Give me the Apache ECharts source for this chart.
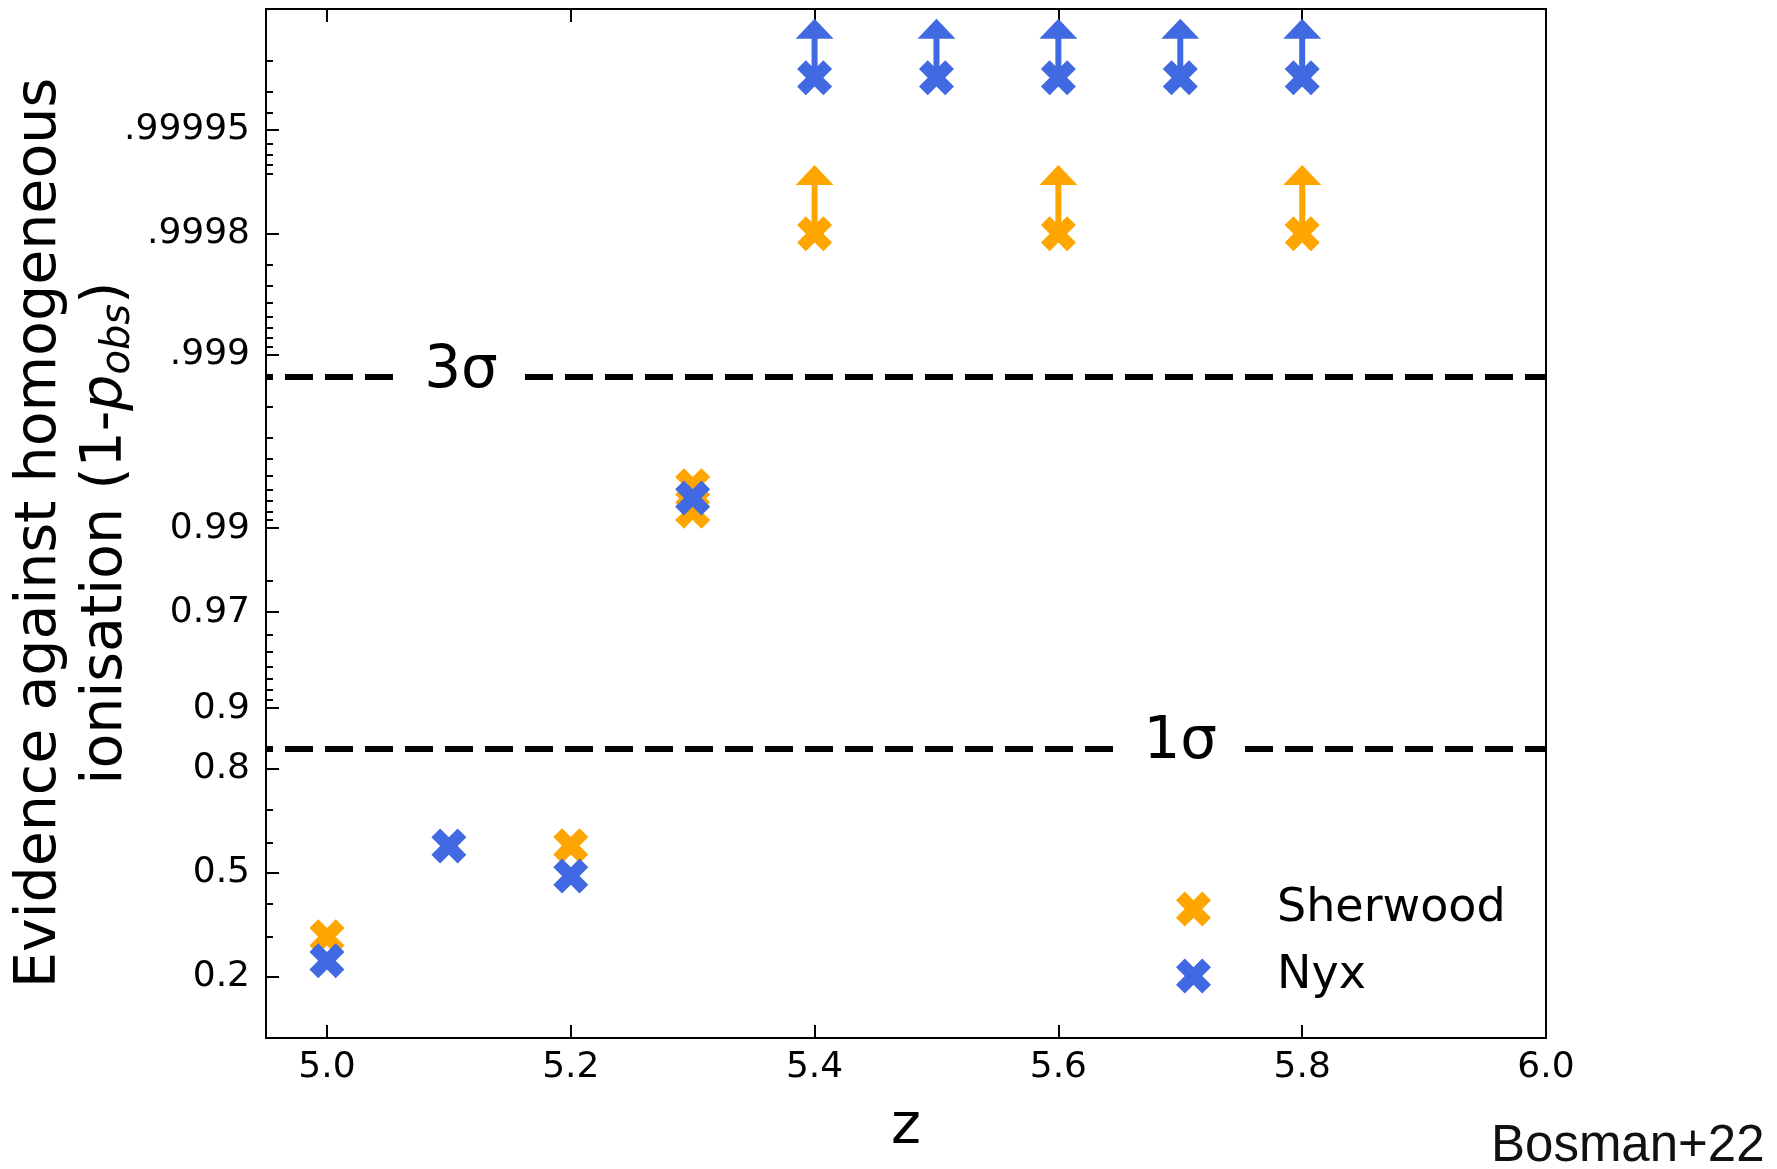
<!DOCTYPE html>
<html lang="en">
<head>
    <meta charset="UTF-8">
    <title>Evidence against homogeneous ionisation</title>
    <script src="https://cdn.jsdelivr.net/npm/echarts@6/dist/echarts.min.js"></script>
    <style>
        html,body{
            height:100%;
            width:100%;
            margin:0;
            padding:0;
            background:#fff;
            overflow:hidden;
        }
    </style>
</head>
<body>
    <div id="main" style="width:1777px;height:1169px"></div>
    <script>
        // values
        var zSherwood = [5.0, 5.2, 5.3, 5.3, 5.4, 5.6, 5.8];
        var pSherwood = [0.30, 0.59, 0.9943, 0.9920, 0.9998, 0.9998, 0.9998];
        var zNyx = [5.0, 5.1, 5.2, 5.3, 5.4, 5.5, 5.6, 5.7, 5.8];
        var pNyx = [0.237, 0.589, 0.49, 0.9933, 0.999975, 0.999975, 0.999975, 0.999975, 0.999975];

        // lower limits (arrows pointing up) and where the arrow heads end
        var zSherwoodLim = [5.4, 5.6, 5.8];
        var pSherwoodLim = [0.9998, 0.9998, 0.9998];
        var pSherwoodTip = 0.99992;
        var zNyxLim = [5.4, 5.5, 5.6, 5.7, 5.8];
        var pNyxLim = [0.999975, 0.999975, 0.999975, 0.999975, 0.999975];
        var pNyxTip = 0.9999886;

        var xTicks = [5.0, 5.2, 5.4, 5.6, 5.8, 6.0];
        var yMajor = [0.2, 0.5, 0.8, 0.9, 0.97, 0.99, 0.999, 0.9998, 0.99995];
        var yMajorLabels = ['0.2', '0.5', '0.8', '0.9', '0.97', '0.99', '.999', '.9998', '.99995'];
        var yMinor = [0.3, 0.4, 0.6, 0.7,
            0.91, 0.92, 0.93, 0.94, 0.95, 0.96, 0.98,
            0.991, 0.992, 0.993, 0.994, 0.995, 0.996, 0.997, 0.998,
            0.9991, 0.9992, 0.9993, 0.9994, 0.9995, 0.9996, 0.9997,
            0.99991, 0.99992, 0.99993, 0.99994, 0.99996, 0.99997, 0.99998];

        var sigmaP = [0.99865, 0.8413];
        var sigmaNames = ['3σ', '1σ'];
        var sigmaLabelZ = [5.11, 5.70];

        var yMinP = 0.1, yMaxP = 0.99999;

        function logit(p){ return Math.log10(p / (1 - p)); }

        var X_PATH = 'path://M1 -2 L0 -1 L-1 -2 L-2 -1 L-1 0 L-2 1 L-1 2 L0 1 L1 2 L2 1 L1 0 L2 -1 Z';
        var FONT = 'DejaVu Sans';

        function arrowItem(params, api){
            var p0 = api.coord([api.value(0), api.value(1)]);
            var p1 = api.coord([api.value(0), api.value(2)]);
            var col = api.visual('color');
            var headH = 20, headW = 38;
            return {
                type: 'group',
                children: [{
                    type: 'line',
                    shape: {x1: p0[0], y1: p0[1], x2: p1[0], y2: p1[1] + headH - 1},
                    style: {stroke: col, lineWidth: 6}
                }, {
                    type: 'polygon',
                    shape: {points: [[p1[0], p1[1]], [p1[0] - headW / 2, p1[1] + headH], [p1[0] + headW / 2, p1[1] + headH]]},
                    style: {fill: col}
                }]
            };
        }

        var tickStyle = {color: '#000', width: 2};

        var myChart = echarts.init(document.getElementById('main'));

        var option = {
            animation: false,
            backgroundColor: '#fff',
            grid: {left: 266, top: 9, width: 1280, height: 1029, show: true, borderColor: '#000', borderWidth: 2, backgroundColor: 'transparent'},
            legend: {
                orient: 'vertical',
                left: 1176,
                top: 886,
                padding: 0,
                itemWidth: 35,
                itemHeight: 35,
                itemGap: 21,
                textStyle: {fontFamily: FONT, fontSize: 46, color: '#000', lineHeight: 46, padding: [0, 0, 0, 61]},
                data: [{name: 'Sherwood', icon: X_PATH}, {name: 'Nyx', icon: X_PATH}]
            },
            xAxis: [{
                type: 'value',
                min: 4.95,
                max: 6.0,
                position: 'bottom',
                axisLine: {show: false, onZero: false},
                splitLine: {show: false},
                axisTick: {inside: true, length: 13, lineStyle: tickStyle, customValues: xTicks},
                axisLabel: {
                    customValues: xTicks,
                    margin: 12,
                    fontFamily: FONT, fontSize: 36, color: '#000', lineHeight: 36,
                    formatter: function(v){ return v.toFixed(1); }
                }
            }, {
                type: 'value',
                min: 4.95,
                max: 6.0,
                position: 'top',
                axisLine: {show: false, onZero: false},
                splitLine: {show: false},
                axisTick: {inside: true, length: 13, lineStyle: tickStyle, customValues: xTicks},
                axisLabel: {show: false}
            }],
            yAxis: [{
                type: 'value',
                min: logit(yMinP),
                max: logit(yMaxP),
                position: 'left',
                axisLine: {show: false, onZero: false},
                splitLine: {show: false},
                axisTick: {inside: true, length: 13, lineStyle: tickStyle, customValues: yMajor.map(logit)},
                axisLabel: {
                    customValues: yMajor.map(logit),
                    margin: 16,
                    fontFamily: FONT, fontSize: 36, color: '#000',
                    formatter: function(v){
                        for (var i = 0; i < yMajor.length; i++) {
                            if (Math.abs(logit(yMajor[i]) - v) < 1e-6) return yMajorLabels[i];
                        }
                        return '';
                    }
                }
            }, {
                type: 'value',
                min: logit(yMinP),
                max: logit(yMaxP),
                position: 'left',
                axisLine: {show: false, onZero: false},
                splitLine: {show: false},
                axisTick: {inside: true, length: 7, lineStyle: tickStyle, customValues: yMinor.map(logit)},
                axisLabel: {show: false, customValues: yMinor.map(logit)}
            }],
            graphic: [{
                type: 'text',
                x: 73,
                y: 533,
                rotation: Math.PI / 2,
                style: {
                    text: '{a|Evidence against homogeneous}\n{a|ionisation (1-}{i|p}{s|obs}{a|)}',
                    align: 'center',
                    verticalAlign: 'middle',
                    fill: '#000',
                    rich: {
                        a: {fontFamily: FONT, fontSize: 57, lineHeight: 66, fill: '#000'},
                        i: {fontFamily: FONT, fontSize: 57, lineHeight: 66, fontStyle: 'italic', fill: '#000'},
                        s: {fontFamily: FONT, fontSize: 40, lineHeight: 40, fontStyle: 'italic', verticalAlign: 'bottom', fill: '#000'}
                    }
                }
            }, {
                type: 'text',
                x: 906,
                y: 1128,
                style: {text: 'z', fontFamily: FONT, fontSize: 57, fill: '#000', align: 'center', verticalAlign: 'middle'}
            }, {
                type: 'text',
                x: 1491,
                y: 1147,
                style: {text: 'Bosman+22', fontFamily: 'Liberation Sans', fontSize: 51, fill: '#111', align: 'left', verticalAlign: 'middle'}
            }],
            series: [{
                name: 'sigma',
                type: 'line',
                data: [],
                z: 1,
                markLine: {
                    silent: true,
                    symbol: 'none',
                    label: {show: false},
                    lineStyle: {color: '#000', width: 6, type: [28, 12], dashOffset: 21},
                    data: sigmaP.map(function(p){ return {yAxis: logit(p)}; })
                }
            }, {
                name: 'sigmaLabels',
                type: 'scatter',
                z: 6,
                symbolSize: 1,
                itemStyle: {color: '#fff', opacity: 1},
                data: sigmaNames.map(function(n, i){ return [sigmaLabelZ[i], logit(sigmaP[i]), n]; }),
                label: {
                    show: true,
                    position: 'inside',
                    offset: [0, -5],
                    formatter: function(p){ return p.value[2]; },
                    fontFamily: FONT,
                    fontSize: 58,
                    color: '#000',
                    opacity: 1,
                    backgroundColor: '#fff',
                    padding: [2, 25]
                }
            }, {
                name: 'Sherwood',
                type: 'custom',
                z: 2,
                itemStyle: {color: '#FFA500'},
                renderItem: arrowItem,
                data: zSherwoodLim.map(function(z, i){ return [z, logit(pSherwoodLim[i]), logit(pSherwoodTip)]; })
            }, {
                name: 'Sherwood',
                type: 'scatter',
                z: 3,
                symbol: X_PATH,
                symbolSize: 35,
                itemStyle: {color: '#FFA500', opacity: 1},
                data: zSherwood.map(function(z, i){ return [z, logit(pSherwood[i])]; })
            }, {
                name: 'Nyx',
                type: 'custom',
                z: 4,
                itemStyle: {color: '#4169E1'},
                renderItem: arrowItem,
                data: zNyxLim.map(function(z, i){ return [z, logit(pNyxLim[i]), logit(pNyxTip)]; })
            }, {
                name: 'Nyx',
                type: 'scatter',
                z: 5,
                symbol: X_PATH,
                symbolSize: 35,
                itemStyle: {color: '#4169E1', opacity: 1},
                data: zNyx.map(function(z, i){ return [z, logit(pNyx[i])]; })
            }]
        };

        myChart.setOption(option);
    </script>
</body>
</html>
